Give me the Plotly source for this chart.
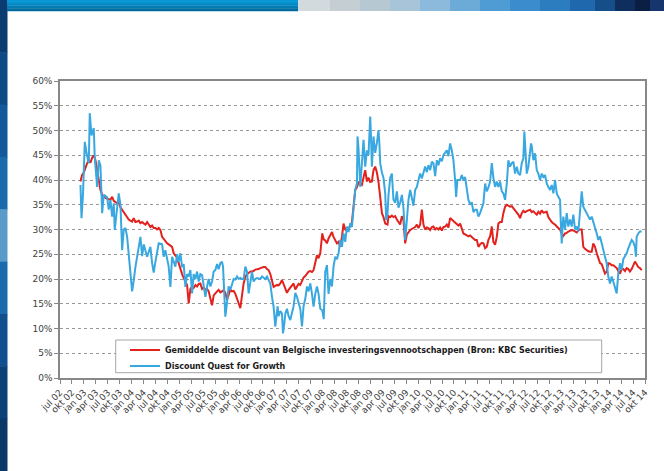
import plotly.graph_objects as go

# ---- data (time in decimal years, values in %) ----
red_dates = [2002.929,2002.960,2002.998,2003.033,2003.069,2003.103,2003.138,2003.174,2003.207,2003.243,
2003.278,2003.312,2003.347,2003.383,2003.416,2003.487,2003.556,2003.592,2003.626,2003.697,
2003.730,2003.766,2003.801,2003.835,2003.870,2003.906,2003.939,2003.975,2004.010,2004.044,
2004.079,2004.115,2004.149,2004.184,2004.220,2004.253,2004.289,2004.324,2004.358,2004.393,
2004.429,2004.462,2004.498,2004.533,2004.567,2004.603,2004.638,2004.672,2004.707,2004.743,
2004.776,2004.812,2004.847,2004.881,2004.916,2004.952,2004.985,2005.021,2005.057,2005.090,
2005.126,2005.161,2005.195,2005.230,2005.266,2005.299,2005.335,2005.370,2005.404,2005.439,
2005.475,2005.508,2005.544,2005.580,2005.613,2005.649,2005.684,2005.718,2005.753,2005.789,
2005.822,2005.858,2005.893,2005.927,2005.962,2005.998,2006.031,2006.067,2006.103,2006.136,
2006.172,2006.207,2006.241,2006.276,2006.312,2006.345,2006.381,2006.416,2006.450,2006.485,
2006.554,2006.590,2006.659,2006.695,2006.764,2006.799,2006.835,2006.868,2006.904,2006.939,
2006.973,2007.008,2007.044,2007.077,2007.113,2007.149,2007.182,2007.218,2007.253,2007.287,
2007.322,2007.358,2007.391,2007.427,2007.462,2007.496,2007.531,2007.567,2007.600,2007.636,
2007.672,2007.705,2007.741,2007.776,2007.810,2007.845,2007.881,2007.914,2007.950,2007.992,
2008.023,2008.054,2008.090,2008.123,2008.159,2008.195,2008.228,2008.264,2008.299,2008.333,
2008.368,2008.404,2008.437,2008.473,2008.508,2008.542,2008.577,2008.613,2008.646,2008.682,
2008.718,2008.751,2008.787,2008.822,2008.856,2008.891,2008.927,2008.960,2008.996,2009.031,
2009.065,2009.100,2009.136,2009.169,2009.205,2009.241,2009.274,2009.310,2009.358,2009.379,
2009.414,2009.450,2009.483,2009.519,2009.554,2009.588,2009.623,2009.659,2009.692,2009.728,
2009.764,2009.797,2009.833,2009.902,2009.937,2009.973,2010.006,2010.042,2010.077,2010.111,
2010.146,2010.182,2010.215,2010.251,2010.287,2010.320,2010.356,2010.391,2010.425,2010.460,
2010.496,2010.529,2010.565,2010.600,2010.634,2010.669,2010.705,2010.738,2010.774,2010.810,
2010.843,2010.879,2010.948,2010.983,2011.019,2011.052,2011.088,2011.123,2011.157,2011.192,
2011.228,2011.262,2011.297,2011.333,2011.366,2011.402,2011.437,2011.471,2011.506,2011.542,
2011.575,2011.611,2011.646,2011.680,2011.715,2011.751,2011.784,2011.820,2011.856,2011.889,
2011.925,2011.960,2011.994,2012.029,2012.065,2012.098,2012.134,2012.169,2012.203,2012.238,
2012.274,2012.308,2012.343,2012.379,2012.412,2012.448,2012.483,2012.517,2012.552,2012.588,
2012.621,2012.657,2012.692,2012.726,2012.762,2012.797,2012.831,2012.866,2012.902,2012.935,
2012.971,2013.006,2013.040,2013.075,2013.111,2013.144,2013.180,2013.215,2013.249,2013.285,
2013.320,2013.354,2013.389,2013.425,2013.458,2013.494,2013.529,2013.563,2013.598,2013.634,
2013.667,2013.703,2013.739,2013.772,2013.808,2013.843,2013.877,2013.912,2013.948,2013.981,
2014.017,2014.052,2014.086,2014.121,2014.157,2014.190,2014.226,2014.262,2014.295,2014.331,
2014.366,2014.400,2014.435,2014.471,2014.504,2014.540,2014.575,2014.609,2014.644,2014.680]
red_values = [39.7,41.0,41.5,42.5,43.4,44.0,43.5,44.5,45.0,44.0,
42.0,40.0,38.0,37.0,36.6,36.2,36.0,36.6,35.8,35.3,
35.5,34.5,34.0,33.5,33.2,32.6,32.0,31.8,31.6,32.3,
31.5,31.6,31.8,31.3,31.5,31.2,31.0,31.5,31.0,30.5,
30.8,30.3,30.3,30.0,30.3,29.9,28.5,28.0,27.6,27.2,
27.0,26.8,26.5,25.2,24.8,24.3,23.2,21.8,21.0,20.2,
19.6,18.8,15.1,18.0,18.5,18.2,18.8,18.5,19.0,19.1,
18.0,18.3,17.8,18.0,17.5,15.8,14.7,16.7,17.2,17.5,
17.8,17.3,17.5,17.8,17.2,15.8,16.8,17.8,17.5,17.6,
17.0,15.8,15.1,14.1,16.5,19.1,20.4,21.0,21.2,21.5,
21.6,21.9,22.0,22.2,22.4,22.4,22.0,21.8,21.0,19.8,
18.4,18.6,18.8,18.7,19.1,19.8,19.0,18.1,17.2,17.8,
18.2,18.5,19.1,17.9,18.5,19.0,18.8,19.8,20.3,20.6,
21.2,21.5,21.6,21.4,21.8,23.5,24.8,24.2,25.2,29.2,
28.0,27.8,27.2,28.2,28.8,29.5,28.5,27.8,27.2,27.5,
26.5,28.5,31.2,30.0,29.8,30.3,30.6,31.5,34.6,38.0,
38.5,39.5,39.2,39.0,40.5,42.0,39.7,40.5,39.6,39.7,
42.0,42.7,41.5,39.6,36.6,33.3,32.5,31.2,31.0,32.7,
32.5,32.8,32.5,32.7,32.0,31.6,31.0,32.7,31.9,27.2,
29.0,29.4,29.9,30.3,30.5,31.0,30.3,31.0,34.0,31.0,
30.0,30.4,30.3,29.9,30.5,30.6,30.0,30.3,30.0,30.4,
29.8,30.5,30.6,31.0,30.4,32.3,32.0,31.6,31.3,31.2,
30.8,31.2,29.2,29.0,28.8,28.6,28.8,28.5,28.2,27.9,
27.9,26.5,27.0,27.3,27.2,26.2,26.5,27.9,28.6,30.6,
27.5,26.9,28.5,31.2,31.5,31.5,33.3,34.6,35.0,34.8,
34.6,34.7,34.3,34.0,33.5,33.0,32.3,33.3,33.8,33.5,
33.7,33.9,34.0,33.5,33.7,33.3,33.0,33.6,33.2,33.9,
33.4,33.5,33.6,32.5,31.9,31.5,31.2,31.0,30.6,30.3,
30.0,29.2,28.7,29.2,29.3,29.6,29.8,29.9,29.8,29.5,
29.4,29.8,30.0,30.0,26.5,26.1,25.8,25.6,25.5,25.5,
27.2,26.5,25.2,24.2,23.2,23.0,22.2,21.1,21.5,23.2,
23.1,22.8,22.8,22.5,22.2,21.6,21.1,22.0,22.0,21.6,
22.2,22.0,21.5,22.0,22.8,23.5,23.0,22.4,22.2,21.8]

blue_dates = [2002.929,2002.950,2002.981,2003.019,2003.065,2003.103,2003.123,2003.159,2003.207,2003.228,
2003.278,2003.312,2003.347,2003.383,2003.416,2003.487,2003.521,2003.556,2003.592,2003.626,
2003.646,2003.697,2003.730,2003.766,2003.801,2003.835,2003.870,2003.906,2003.939,2003.975,
2004.010,2004.044,2004.079,2004.149,2004.184,2004.220,2004.253,2004.324,2004.393,2004.429,
2004.462,2004.498,2004.567,2004.638,2004.672,2004.707,2004.776,2004.812,2004.847,2004.916,
2004.952,2004.985,2005.021,2005.057,2005.090,2005.126,2005.161,2005.195,2005.230,2005.266,
2005.299,2005.335,2005.370,2005.404,2005.439,2005.475,2005.508,2005.544,2005.580,2005.613,
2005.649,2005.684,2005.718,2005.753,2005.789,2005.822,2005.858,2005.893,2005.914,2005.927,
2005.962,2005.983,2005.998,2006.031,2006.067,2006.103,2006.136,2006.172,2006.207,2006.241,
2006.276,2006.312,2006.345,2006.381,2006.416,2006.450,2006.485,2006.521,2006.554,2006.590,
2006.626,2006.695,2006.730,2006.764,2006.799,2006.835,2006.868,2006.904,2006.939,2006.973,
2007.008,2007.029,2007.057,2007.077,2007.113,2007.149,2007.169,2007.197,2007.218,2007.253,
2007.287,2007.322,2007.358,2007.391,2007.427,2007.462,2007.496,2007.531,2007.567,2007.600,
2007.636,2007.672,2007.705,2007.741,2007.776,2007.810,2007.845,2007.881,2007.914,2007.950,
2007.992,2008.023,2008.054,2008.090,2008.123,2008.159,2008.195,2008.228,2008.264,2008.299,
2008.333,2008.368,2008.404,2008.437,2008.473,2008.508,2008.542,2008.577,2008.613,2008.646,
2008.682,2008.718,2008.730,2008.751,2008.787,2008.822,2008.856,2008.891,2008.927,2008.960,
2008.996,2009.010,2009.031,2009.065,2009.100,2009.136,2009.169,2009.190,2009.205,2009.241,
2009.274,2009.310,2009.331,2009.358,2009.379,2009.414,2009.450,2009.483,2009.519,2009.554,
2009.588,2009.623,2009.659,2009.692,2009.728,2009.764,2009.797,2009.833,2009.868,2009.902,
2009.937,2009.973,2010.006,2010.042,2010.077,2010.111,2010.146,2010.182,2010.215,2010.251,
2010.287,2010.320,2010.356,2010.391,2010.425,2010.460,2010.496,2010.529,2010.565,2010.600,
2010.634,2010.669,2010.705,2010.738,2010.774,2010.795,2010.822,2010.879,2010.914,2010.948,
2010.983,2011.019,2011.052,2011.088,2011.123,2011.157,2011.192,2011.228,2011.262,2011.297,
2011.366,2011.402,2011.437,2011.471,2011.506,2011.542,2011.575,2011.611,2011.646,2011.680,
2011.715,2011.751,2011.784,2011.820,2011.856,2011.889,2011.925,2011.960,2011.994,2012.029,
2012.065,2012.098,2012.134,2012.169,2012.203,2012.224,2012.253,2012.274,2012.308,2012.343,
2012.364,2012.379,2012.412,2012.448,2012.483,2012.517,2012.552,2012.588,2012.621,2012.657,
2012.692,2012.726,2012.762,2012.797,2012.831,2012.866,2012.902,2012.935,2012.971,2012.985,
2013.006,2013.027,2013.040,2013.075,2013.111,2013.144,2013.180,2013.215,2013.249,2013.285,
2013.320,2013.354,2013.389,2013.425,2013.458,2013.494,2013.529,2013.563,2013.598,2013.634,
2013.667,2013.703,2013.739,2013.772,2013.808,2013.843,2013.877,2013.912,2013.948,2013.981,
2014.017,2014.052,2014.086,2014.121,2014.157,2014.190,2014.226,2014.262,2014.295,2014.331,
2014.366,2014.400,2014.435,2014.471,2014.504,2014.540,2014.561,2014.575,2014.609,2014.644,
2014.680]
blue_values = [39.0,32.3,37.0,47.7,45.0,43.4,53.5,49.0,50.5,44.5,
38.6,44.0,42.9,33.3,37.0,36.5,34.0,36.0,32.6,35.3,
29.9,34.0,37.3,35.0,25.8,30.0,30.3,28.5,24.5,21.8,
17.5,19.7,22.4,26.5,28.5,24.6,27.0,24.5,26.5,23.2,
21.3,23.5,27.2,27.0,24.5,25.8,22.5,18.4,24.5,22.5,
25.0,23.5,25.2,22.4,23.0,18.4,21.0,20.5,21.8,17.1,
21.0,20.0,21.5,19.5,21.0,20.8,18.5,16.4,18.5,20.0,
18.5,19.5,21.5,21.8,23.0,22.0,23.2,23.5,22.5,19.3,
12.4,14.0,16.0,18.5,17.8,19.1,20.0,19.9,20.5,20.0,
20.2,20.0,20.0,22.5,21.5,17.1,19.5,21.5,19.5,20.0,
20.2,20.0,20.5,20.2,20.0,20.5,19.8,19.1,16.4,14.4,
10.4,12.0,14.5,12.5,13.5,13.0,9.0,11.0,13.0,14.0,
12.5,11.7,13.0,14.5,17.2,16.4,15.2,14.0,10.4,14.5,
16.0,18.5,17.5,19.1,17.0,14.4,17.0,18.5,17.0,14.0,
13.7,11.9,21.5,22.8,17.0,20.0,18.5,22.5,24.5,24.0,
25.2,27.9,26.5,29.2,27.5,30.6,29.5,31.2,30.5,34.0,
38.0,39.3,48.8,46.4,38.6,43.4,48.1,42.7,46.0,45.0,
52.8,49.5,42.7,48.8,45.5,47.5,50.1,47.0,43.4,41.5,
40.4,37.3,31.9,33.2,37.0,40.4,41.3,36.0,35.4,37.7,
34.4,35.4,37.0,34.4,27.9,32.0,36.0,38.0,36.6,34.8,
38.0,38.6,40.0,41.3,40.3,41.6,42.7,41.6,43.0,42.0,
43.7,43.4,40.8,44.0,43.0,44.4,43.8,45.0,45.4,46.0,
44.8,47.4,46.0,44.0,40.0,36.6,40.0,40.0,41.0,40.0,
40.6,38.6,36.0,35.0,35.5,33.5,34.0,34.0,32.6,33.3,
35.3,39.3,37.7,38.5,39.7,43.4,40.4,38.6,39.7,38.6,
39.7,37.7,37.3,36.0,39.3,44.0,42.7,43.4,43.7,41.3,
42.7,41.3,41.0,43.4,44.4,49.8,42.7,41.3,42.7,45.4,
47.4,46.8,44.0,45.4,42.0,41.3,40.0,41.3,40.6,41.0,
39.3,38.6,38.0,39.0,37.3,40.0,37.3,36.6,36.0,32.0,
27.2,31.2,32.6,30.0,33.3,30.6,32.0,30.6,33.0,30.0,
30.6,29.6,34.6,37.7,34.6,34.0,33.3,32.6,32.0,32.6,
31.6,30.6,29.2,27.9,28.6,27.2,25.5,24.5,23.2,20.5,
19.1,20.5,19.5,18.5,17.1,21.1,23.2,21.8,24.0,24.6,
25.2,26.2,27.2,27.9,27.5,26.5,24.5,28.5,29.2,29.6,
29.6]

tick_dates = [2002.5 + 0.25 * k for k in range(50)]
tick_labels = ["jul 02","okt 02",
"jan 03","apr 03","jul 03","okt 03","jan 04","apr 04","jul 04","okt 04",
"jan 05","apr 05","jul 05","okt 05","jan 06","apr 06","jul 06","okt 06",
"jan 07","apr 07","jul 07","okt 07","jan 08","apr 08","jul 08","okt 08",
"jan 09","apr 09","jul 09","okt 09","jan 10","apr 10","jul 10","okt 10",
"jan 11","apr 11","jul 11","okt 11","jan 12","apr 12","jul 12","okt 12",
"jan 13","apr 13","jul 13","okt 13","jan 14","apr 14","jul 14","okt 14"]
y_ticks = [0, 5, 10, 15, 20, 25, 30, 35, 40, 45, 50, 55, 60]
y_labels = ["0%", "5%", "10%", "15%", "20%", "25%", "30%", "35%", "40%", "45%", "50%", "55%", "60%"]

series_names = ["Gemiddelde discount van Belgische investeringsvennootschappen (Bron: KBC Securities)",
                "Discount Quest for Growth"]

# ---- layout geometry ----
W, H = 664, 471
ML, MR, MT, MB = 60, 19, 81, 93
PW, PH = W - ML - MR, H - MT - MB

def px(x):
    return (x - ML) / PW

def py(y):
    return (H - MB - y) / PH

fig = go.Figure()
fig.add_trace(go.Scatter(x=red_dates, y=red_values, mode="lines", name=series_names[0],
                         line=dict(color="#e3221d", width=2), legend="legend"))
fig.add_trace(go.Scatter(x=blue_dates, y=blue_values, mode="lines", name=series_names[1],
                         line=dict(color="#3aa8e0", width=2), legend="legend2"))

shapes = []
def rect(x0, y0, x1, y1, color, line=None, layer="above"):
    d = dict(type="rect", xref="paper", yref="paper", x0=px(x0), x1=px(x1), y0=py(y1), y1=py(y0),
             fillcolor=color, layer=layer)
    d["line"] = line if line else dict(width=0)
    shapes.append(d)

# slide decoration: left strip
left_cols = ["#0b3c70", "#0e4a86", "#13589a", "#1a6aae", "#5a9cc8", "#1a6aae", "#10508e", "#0c4178", "#0a3868"]
n = len(left_cols)
for i, c in enumerate(left_cols):
    rect(0, i * H / n, 7.5, (i + 1) * H / n + 0.5, c)
# top bar, solid part
top_cols = ["#0a98d6", "#068ac6", "#037cb4", "#006d9e"]
for i, c in enumerate(top_cols):
    rect(7, i * 11 / 4, 298, (i + 1) * 11 / 4 + 0.3, c)
# top bar, textured part
tex = [(298, "#d3dadd"), (330, "#c4ced3"), (360, "#b6c8d2"), (390, "#a8c4d8"), (420, "#8cbadc"),
       (450, "#6cabd8"), (480, "#4f9cd4"), (510, "#3b8ccc"), (540, "#2c7cc0"), (570, "#2068ae"),
       (595, "#164e8a"), (615, "#0e2f5e"), (635, "#0b1f44"), (650, "#16356c")]
for i, (x0, c) in enumerate(tex):
    x1 = tex[i + 1][0] if i + 1 < len(tex) else W
    rect(x0, 0, x1 + 0.5, 11, c)
# legend frame
rect(115.7, 340, 601.7, 372.7, "white", line=dict(color="#a6a6a6", width=1))

legend_style = dict(xanchor="left", yanchor="middle", bgcolor="rgba(0,0,0,0)", borderwidth=0,
                    font=dict(family="DejaVu Sans", size=8, color="#1a1a1a", weight="bold"),
                    itemwidth=30)

fig.update_layout(
    width=W, height=H,
    margin=dict(l=ML, r=MR, t=MT, b=MB, pad=0),
    paper_bgcolor="white", plot_bgcolor="white",
    shapes=shapes,
    showlegend=True,
    legend=dict(x=px(125), y=py(350), **legend_style),
    legend2=dict(x=px(125), y=py(366), **legend_style),
    font=dict(family="DejaVu Sans", size=9, color="#404040"),
    xaxis=dict(range=[2002.5, 2014.75], tickmode="array", tickvals=tick_dates, ticktext=tick_labels,
               tickangle=-45, ticks="outside", ticklen=4, tickcolor="#888888",
               showline=True, linecolor="#888888", linewidth=1.5, mirror=True,
               showgrid=False, zeroline=False, tickfont=dict(size=9, color="#404040")),
    yaxis=dict(range=[0, 60], tickmode="array", tickvals=y_ticks, ticktext=y_labels,
               ticks="outside", ticklen=4, tickcolor="#888888",
               showline=True, linecolor="#888888", linewidth=1.5, mirror=True,
               showgrid=True, gridcolor="#999999", griddash="3px,3px", gridwidth=1,
               zeroline=False, tickfont=dict(size=9, color="#404040")),
)

fig.write_html("out.html", config={"displayModeBar": False},
               post_script="document.body.style.margin='0';document.body.style.padding='0';")
